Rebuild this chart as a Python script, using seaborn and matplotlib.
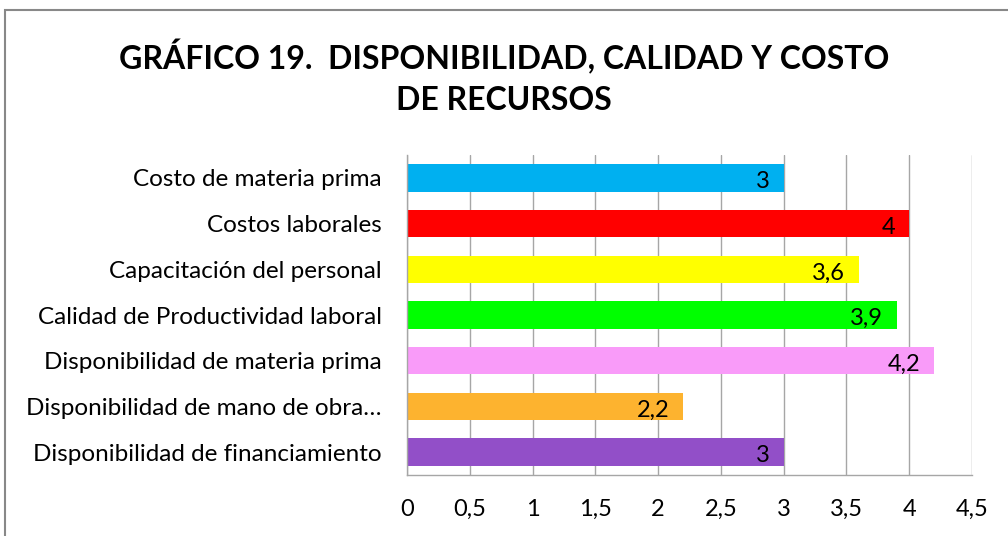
import matplotlib
matplotlib.use("Agg")
import matplotlib.pyplot as plt
import seaborn as sns
import pandas as pd
from matplotlib.patches import Rectangle

categories = [
    "Costo de materia prima",
    "Costos laborales",
    "Capacitación del personal",
    "Calidad de Productividad laboral",
    "Disponibilidad de materia prima",
    "Disponibilidad de mano de obra…",
    "Disponibilidad de financiamiento",
]
values = [3, 4, 3.6, 3.9, 4.2, 2.2, 3]
value_labels = ["3", "4", "3,6", "3,9", "4,2", "2,2", "3"]
colors = ["#00B0F0", "#FF0000", "#FFFF00", "#00FF00", "#F99BF9", "#FDB32F", "#924FC8"]
xticks = [0, 0.5, 1, 1.5, 2, 2.5, 3, 3.5, 4, 4.5]
xtick_labels = ["0", "0,5", "1", "1,5", "2", "2,5", "3", "3,5", "4", "4,5"]
title = "GRÁFICO 19.  DISPONIBILIDAD, CALIDAD Y COSTO\nDE RECURSOS"

sns.set_theme(style="white")
plt.rcParams["font.family"] = ["Lato", "DejaVu Sans"]
plt.rcParams["text.color"] = "black"
plt.rcParams["xtick.color"] = "black"
plt.rcParams["ytick.color"] = "black"

df = pd.DataFrame({"cat": categories, "val": values})

fig = plt.figure(figsize=(10.08, 5.36), dpi=100)
ax = fig.add_axes([407/1008, 1-475/536, (972-407)/1008, (475-155)/536])

sns.barplot(data=df, x="val", y="cat", hue="cat", palette=colors, legend=False,
            width=0.6, ax=ax, saturation=1, edgecolor="none")

ax.set_xlim(0, 4.5)
ax.set_ylim(6.5, -0.5)
ax.set_xticks(xticks)
ax.set_xticklabels(xtick_labels, fontsize=17)
ax.set_xlabel("")
ax.set_ylabel("")
ax.tick_params(axis="y", labelsize=17.5, pad=18, length=0, labelcolor="black")
ax.tick_params(axis="x", pad=17, length=0, labelcolor="black")
ax.grid(axis="x", color="#A6A6A6", linewidth=1)
ax.set_axisbelow(True)
for s in ["top", "right"]:
    ax.spines[s].set_visible(False)
for s in ["left", "bottom"]:
    ax.spines[s].set_color("#A6A6A6")
    ax.spines[s].set_linewidth(1)

for i, (v, lab) in enumerate(zip(values, value_labels)):
    ax.text(v - 0.11, i + 0.08, lab, ha="right", va="center", fontsize=17, color="black")

fig.text(0.5, 1-77/536, title, ha="center", va="center", fontsize=23,
         fontweight="bold", linespacing=1.5, color="black")

fig.patches.append(Rectangle((5/1008, -0.1), 1.2, 1.1 - 10/536, transform=fig.transFigure,
                             fill=False, edgecolor="#888888", linewidth=1.5))

fig.savefig("out.png", dpi=100)
